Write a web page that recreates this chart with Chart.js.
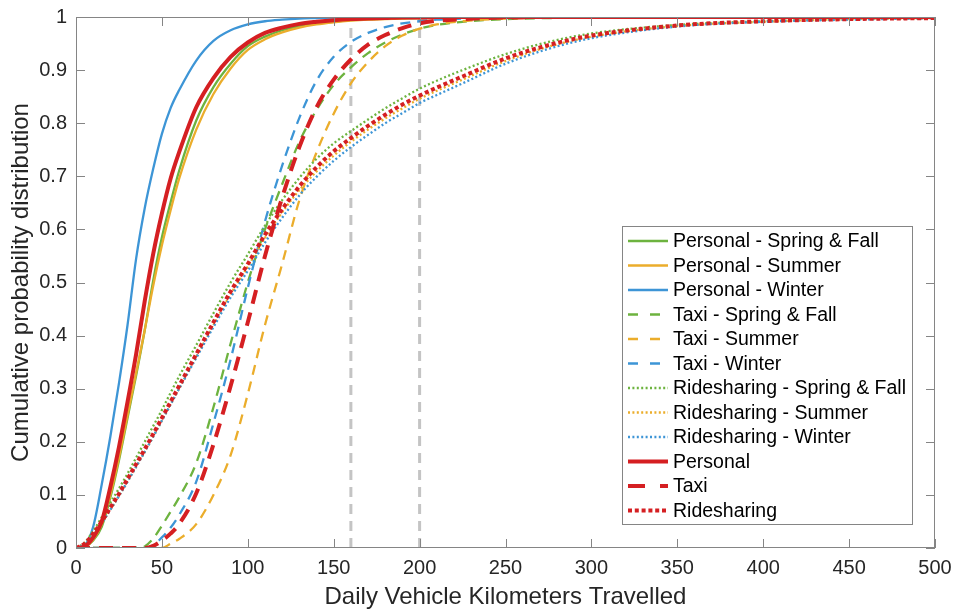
<!DOCTYPE html>
<html lang="en">
<head>
<meta charset="UTF-8">
<title>Daily VKT cumulative distribution</title>
<script src="https://cdn.jsdelivr.net/npm/chart.js"></script>
<style>
  body { margin: 0; background: #ffffff; }
  #wrap { width: 955px; height: 612px; }
</style>
</head>
<body>
<div id="wrap"><canvas id="cdfChart" width="955" height="612"></canvas></div>
<script>
// x grid (km) shared by every curve
const km = [0, 5, 10, 15, 20, 25, 30, 35, 40, 45, 50, 55, 60, 70, 80, 90, 100, 110, 120, 130, 140, 150,
            160, 170, 180, 190, 200, 210, 225, 250, 275, 300, 350, 400, 450, 500];

// Personal vehicles
const personalSpringFall = [0, 0.002, 0.014, 0.04, 0.095, 0.165, 0.245, 0.325, 0.41, 0.505, 0.585, 0.65, 0.71, 0.805, 0.868, 0.912, 0.945, 0.963, 0.975, 0.983, 0.988, 0.991,
                            0.994, 0.996, 0.997, 0.998, 0.998, 0.999, 0.999, 1, 1, 1, 1, 1, 1, 1];
const personalSummer     = [0, 0.002, 0.016, 0.045, 0.1, 0.17, 0.25, 0.33, 0.41, 0.495, 0.57, 0.635, 0.695, 0.788, 0.855, 0.903, 0.938, 0.958, 0.971, 0.98, 0.986, 0.99,
                            0.993, 0.995, 0.996, 0.997, 0.998, 0.998, 0.999, 0.999, 1, 1, 1, 1, 1, 1];
const personalWinter     = [0, 0.005, 0.04, 0.12, 0.21, 0.31, 0.42, 0.545, 0.64, 0.715, 0.78, 0.828, 0.862, 0.918, 0.955, 0.975, 0.986, 0.992, 0.995, 0.997, 0.998, 0.999,
                            1, 1, 1, 1, 1, 1, 1, 1, 1, 1, 1, 1, 1, 1];
// Taxi
const taxiSpringFall = [0, 0, 0, 0, 0, 0, 0, 0, 0.003, 0.018, 0.042, 0.068, 0.095, 0.16, 0.265, 0.385, 0.5, 0.6, 0.685, 0.765, 0.825, 0.872,
                        0.905, 0.932, 0.952, 0.967, 0.978, 0.985, 0.991, 0.996, 0.998, 0.999, 1, 1, 1, 1];
const taxiSummer     = [0, 0, 0, 0, 0, 0, 0, 0, 0, 0, 0, 0.008, 0.017, 0.045, 0.1, 0.175, 0.29, 0.42, 0.535, 0.655, 0.745, 0.818,
                        0.875, 0.915, 0.945, 0.965, 0.978, 0.986, 0.992, 0.997, 0.999, 1, 1, 1, 1, 1];
const taxiWinter     = [0, 0, 0, 0, 0, 0, 0, 0, 0, 0.005, 0.02, 0.038, 0.062, 0.125, 0.235, 0.355, 0.49, 0.615, 0.72, 0.81, 0.88, 0.925,
                        0.953, 0.97, 0.981, 0.988, 0.992, 0.995, 0.997, 0.999, 1, 1, 1, 1, 1, 1];
// Ridesharing
const rideSpringFall = [0, 0.01, 0.032, 0.058, 0.085, 0.112, 0.14, 0.17, 0.2, 0.23, 0.26, 0.292, 0.323, 0.382, 0.442, 0.5, 0.553, 0.607, 0.655, 0.697, 0.733, 0.762,
                        0.785, 0.807, 0.828, 0.847, 0.865, 0.88, 0.9, 0.93, 0.953, 0.969, 0.985, 0.992, 0.996, 0.998];
const rideSummer     = [0, 0.007, 0.025, 0.047, 0.072, 0.098, 0.125, 0.153, 0.181, 0.21, 0.24, 0.27, 0.3, 0.36, 0.42, 0.478, 0.53, 0.584, 0.632, 0.674, 0.709, 0.739,
                        0.765, 0.788, 0.809, 0.828, 0.846, 0.861, 0.882, 0.917, 0.944, 0.963, 0.983, 0.991, 0.996, 0.998];
const rideWinter     = [0, 0.007, 0.025, 0.047, 0.072, 0.098, 0.125, 0.153, 0.181, 0.21, 0.24, 0.27, 0.3, 0.358, 0.416, 0.472, 0.522, 0.575, 0.622, 0.664, 0.699, 0.729,
                        0.755, 0.778, 0.8, 0.819, 0.838, 0.853, 0.875, 0.912, 0.94, 0.96, 0.982, 0.991, 0.995, 0.998];
// All seasons
const personalAll = [0, 0.003, 0.02, 0.05, 0.115, 0.19, 0.275, 0.365, 0.465, 0.555, 0.63, 0.695, 0.745, 0.83, 0.885, 0.925, 0.952, 0.97, 0.98, 0.987, 0.991, 0.994,
                     0.996, 0.997, 0.998, 0.999, 0.999, 1, 1, 1, 1, 1, 1, 1, 1, 1];
const taxiAll     = [0, 0, 0, 0, 0, 0, 0, 0, 0, 0.004, 0.014, 0.027, 0.045, 0.103, 0.195, 0.305, 0.425, 0.55, 0.66, 0.755, 0.83, 0.882,
                     0.92, 0.948, 0.966, 0.979, 0.988, 0.993, 0.996, 0.999, 1, 1, 1, 1, 1, 1];
const rideAll     = [0, 0.008, 0.027, 0.05, 0.076, 0.102, 0.13, 0.158, 0.186, 0.215, 0.245, 0.275, 0.305, 0.365, 0.425, 0.483, 0.535, 0.59, 0.638, 0.681, 0.717, 0.747,
                     0.772, 0.795, 0.816, 0.835, 0.852, 0.867, 0.888, 0.922, 0.947, 0.965, 0.984, 0.992, 0.996, 0.998];

const refLines = [160, 200];
const xTickLabels = ['0', '50', '100', '150', '200', '250', '300', '350', '400', '450', '500'];
const yTickLabels = ['0', '0.1', '0.2', '0.3', '0.4', '0.5', '0.6', '0.7', '0.8', '0.9', '1'];

const GREEN = '#6db33f', ORANGE = '#ebad2b', BLUE = '#3d95d6', RED = '#d51f22', GREY = '#c4c4c4';
const FONT = 'Helvetica, Arial, "Liberation Sans", sans-serif';
const AXIS = '#858585';

const series = [
  { label: 'Personal - Spring & Fall',    data: personalSpringFall, color: GREEN,  kind: 'solid' },
  { label: 'Personal - Summer',           data: personalSummer,     color: ORANGE, kind: 'solid' },
  { label: 'Personal - Winter',           data: personalWinter,     color: BLUE,   kind: 'solid' },
  { label: 'Taxi - Spring & Fall',        data: taxiSpringFall,     color: GREEN,  kind: 'dashed' },
  { label: 'Taxi - Summer',               data: taxiSummer,         color: ORANGE, kind: 'dashed' },
  { label: 'Taxi - Winter',               data: taxiWinter,         color: BLUE,   kind: 'dashed' },
  { label: 'Ridesharing - Spring & Fall', data: rideSpringFall,     color: GREEN,  kind: 'dotted' },
  { label: 'Ridesharing - Summer',        data: rideSummer,         color: ORANGE, kind: 'dotted' },
  { label: 'Ridesharing - Winter',        data: rideWinter,         color: BLUE,   kind: 'dotted' },
  { label: 'Personal',                    data: personalAll,        color: RED,    kind: 'solid',  thick: true },
  { label: 'Taxi',                        data: taxiAll,            color: RED,    kind: 'dashed', thick: true },
  { label: 'Ridesharing',                 data: rideAll,            color: RED,    kind: 'dotted', thick: true }
];

function dashFor(s, legend) {
  if (s.kind === 'dashed') {
    if (legend) return s.thick ? [17, 15] : [10, 12];
    return s.thick ? [14, 9] : [10, 7];
  }
  if (s.kind === 'dotted') return s.thick ? [4, 2.8] : [2, 2.4];
  return [];
}

const datasets = series.map((s, i) => ({
  label: s.label,
  data: km.map((x, j) => ({ x: x, y: s.data[j] })),
  borderColor: s.color,
  borderWidth: s.thick ? 4 : 2.3,
  borderDash: dashFor(s, false),
  pointRadius: 0,
  cubicInterpolationMode: 'monotone',
  order: series.length - i
}));

refLines.forEach(v => {
  datasets.push({
    label: 'ref ' + v,
    data: [{ x: v, y: 0 }, { x: v, y: 1 }],
    borderColor: GREY,
    borderWidth: 3,
    borderDash: [10, 7],
    pointRadius: 0,
    order: 100
  });
});

// MATLAB style box with inward ticks, and the legend box
const framePlugin = {
  id: 'frame',
  afterDatasetsDraw(chart) {
    const { ctx, chartArea: a, scales } = chart;
    ctx.save();
    ctx.strokeStyle = AXIS;
    ctx.lineWidth = 1;
    ctx.strokeRect(a.left + 0.5, a.top + 0.5, a.right - a.left - 1, a.bottom - a.top - 1);
    ctx.beginPath();
    scales.x.ticks.forEach(t => {
      const px = Math.round(scales.x.getPixelForValue(t.value)) + 0.5;
      ctx.moveTo(px, a.bottom); ctx.lineTo(px, a.bottom - 9);
      ctx.moveTo(px, a.top); ctx.lineTo(px, a.top + 9);
    });
    scales.y.ticks.forEach(t => {
      const py = Math.round(scales.y.getPixelForValue(t.value)) + 0.5;
      ctx.moveTo(a.left, py); ctx.lineTo(a.left + 9, py);
      ctx.moveTo(a.right, py); ctx.lineTo(a.right - 9, py);
    });
    ctx.stroke();
    ctx.restore();
  },
  afterDraw(chart) {
    const ctx = chart.ctx;
    const box = { x: 622.5, y: 226.5, w: 290, h: 298 };
    ctx.save();
    ctx.fillStyle = '#ffffff';
    ctx.fillRect(box.x, box.y, box.w, box.h);
    ctx.strokeStyle = AXIS;
    ctx.lineWidth = 1;
    ctx.strokeRect(box.x, box.y, box.w, box.h);
    ctx.font = '19.5px ' + FONT;
    ctx.textBaseline = 'middle';
    ctx.fillStyle = '#000000';
    series.forEach((s, i) => {
      const y = 241 + i * 24.5;
      ctx.beginPath();
      ctx.setLineDash(dashFor(s, true));
      ctx.strokeStyle = s.color;
      ctx.lineWidth = s.thick ? 4 : 2.3;
      ctx.moveTo(628, y);
      ctx.lineTo(668, y);
      ctx.stroke();
      ctx.setLineDash([]);
      ctx.fillText(s.label, 673, y + 1);
    });
    ctx.restore();
  }
};

new Chart(document.getElementById('cdfChart'), {
  type: 'line',
  data: { datasets: datasets },
  plugins: [framePlugin],
  options: {
    responsive: false,
    animation: false,
    devicePixelRatio: 1,
    layout: { padding: { left: 0, right: 20, top: 17, bottom: 0 } },
    plugins: { legend: { display: false }, tooltip: { enabled: false } },
    scales: {
      x: {
        type: 'linear',
        min: 0,
        max: 500,
        afterBuildTicks: s => { s.ticks = xTickLabels.map(t => ({ value: Number(t) })); },
        afterFit: s => { s.height = 64; s.paddingLeft = 0; s.paddingRight = 0; },
        grid: { display: false, drawTicks: false },
        border: { display: false },
        ticks: {
          color: '#262626',
          font: { size: 20, family: FONT },
          padding: 8,
          maxRotation: 0,
          autoSkip: false,
          callback: (v, i) => xTickLabels[i]
        },
        title: {
          display: true,
          text: 'Daily Vehicle Kilometers Travelled',
          color: '#262626',
          font: { size: 24, family: FONT },
          padding: { top: 0, bottom: 0 }
        }
      },
      y: {
        type: 'linear',
        min: 0,
        max: 1,
        afterBuildTicks: s => { s.ticks = yTickLabels.map(t => ({ value: Number(t) })); },
        afterFit: s => { s.width = 76; s.paddingTop = 0; s.paddingBottom = 0; },
        grid: { display: false, drawTicks: false },
        border: { display: false },
        ticks: {
          color: '#262626',
          font: { size: 20, family: FONT },
          padding: 9,
          autoSkip: false,
          callback: (v, i) => yTickLabels[i]
        },
        title: {
          display: true,
          text: 'Cumulative probability distribution',
          color: '#262626',
          font: { size: 24, family: FONT },
          padding: { top: 7, bottom: 0 }
        }
      }
    }
  }
});
</script>
</body>
</html>
